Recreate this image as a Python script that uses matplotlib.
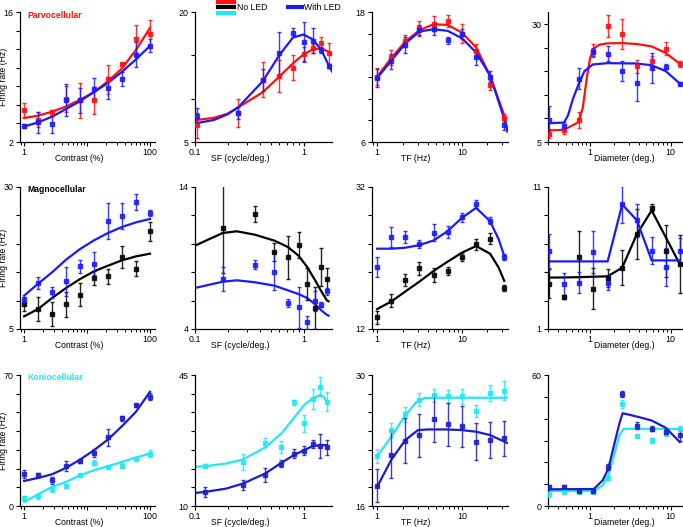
import numpy as np
import matplotlib.pyplot as plt
from matplotlib.lines import Line2D

plt.rcParams['font.family'] = ['Liberation Sans', 'DejaVu Sans']

# stimulus values
contrast = [1, 1.67, 2.78, 4.64, 7.74, 12.9, 21.5, 35.9, 59.9, 100]
tf = [1, 1.47, 2.15, 3.16, 4.64, 6.8, 10, 14.7, 21.5, 31.6]
diameter = [0.31, 0.47, 0.72, 1.08, 1.65, 2.5, 3.8, 5.8, 8.7, 13.0]
sf_parvo = [0.105, 0.25, 0.42, 0.6, 0.8, 1.0, 1.22, 1.46, 1.7]
sf_magno = [0.18, 0.357, 0.54, 0.72, 0.9, 1.08, 1.27, 1.46, 1.64]
sf_konio = [0.123, 0.276, 0.442, 0.625, 0.81, 1.01, 1.21, 1.42, 1.64]

# ---- Parvocellular ----
p_con_no = [5.45, 4.4, 5.2, 6.58, 6.47, 6.47, 8.76, 10.36, 13.09, 13.64]
p_con_no_err = [0.73, 0.8, 0.3, 1.4, 1.85, 1.5, 1.55, 0.2, 1.55, 1.55]
p_con_led = [3.71, 4.11, 3.89, 6.55, 6.47, 7.75, 7.82, 8.76, 11.38, 12.36]
p_con_led_err = [0.2, 1.1, 0.95, 1.75, 1.3, 1.15, 1.15, 0.75, 1.35, 0.7]
p_con_fit_no = [4.58, 4.84, 5.27, 5.82, 6.55, 7.38, 8.55, 9.93, 11.93, 14.29]
p_con_fit_led = [3.67, 4.11, 4.73, 5.56, 6.4, 7.38, 8.36, 9.56, 10.9, 12.36]

p_sf_no = [6.91, 8.36, 12.18, 12.63, 13.59, 15.11, 15.8, 16.45, 15.23]
p_sf_no_err = [1.43, 1.58, 2.04, 1.81, 1.43, 0.86, 0.48, 0.61, 1.24]
p_sf_led = [8.05, 8.36, 12.18, 15.23, 17.6, 16.56, 16.68, 15.61, 13.78]
p_sf_led_err = [0.86, 0.67, 1.3, 2.48, 0.52, 2.23, 1.43, 0.38, 0.2]
p_sf_fitx = [0.1, 0.15, 0.2, 0.25, 0.42, 0.6, 0.8, 1.0, 1.22, 1.46, 1.7, 1.83]
p_sf_fit_no = [7.52, 7.79, 8.28, 9.0, 10.73, 12.56, 14.08, 15.11, 15.69, 15.8, 15.42, 15.04]
p_sf_fit_led = [7.14, 7.55, 8.2, 9.0, 12.0, 15.04, 17.06, 17.4, 16.83, 15.61, 13.89, 13.13]

p_tf_no = [12.04, 13.81, 15.34, 16.5, 16.93, 17.17, 16.01, 14.42, 11.3, 8.24]
p_tf_no_err = [0.76, 0.69, 0.57, 0.69, 0.69, 0.53, 0.87, 0.61, 0.46, 0.38]
p_tf_led = [11.91, 13.44, 14.97, 16.32, 16.41, 15.4, 15.95, 13.81, 12.04, 7.54]
p_tf_led_err = [0.81, 0.69, 0.73, 0.46, 0.49, 0.31, 0.46, 0.67, 0.53, 0.46]
p_tf_fitx = [1, 1.47, 2.15, 3.16, 4.64, 6.8, 10, 14.7, 21.5, 31.6, 34.5]
p_tf_fit_no = [12.04, 13.75, 15.28, 16.32, 16.87, 16.81, 16.1, 14.73, 12.13, 8.46, 6.93]
p_tf_fit_led = [11.91, 13.5, 15.09, 16.2, 16.41, 16.26, 15.58, 14.27, 12.13, 8.15, 7.08]

p_dia_no = [6.75, 7.45, 9.69, 24.4, 29.65, 27.97, 21.1, 22.3, 24.82, 21.6]
p_dia_no_err = [1.0, 0.7, 1.68, 1.4, 2.27, 3.15, 1.4, 1.05, 1.4, 0.7]
p_dia_led = [9.69, 8.43, 18.45, 24.12, 23.7, 20.06, 17.6, 20.76, 20.97, 17.39]
p_dia_led_err = [3.0, 0.8, 2.2, 0.9, 1.6, 2.1, 3.9, 3.2, 0.5, 0.3]
p_dia_fitx_no = [0.31, 0.473, 0.718, 0.812, 0.91, 1.0, 1.13, 1.30, 1.65, 2.53, 3.77, 5.77, 8.66, 13.0]
p_dia_fit_no = [7.45, 7.59, 9.2, 12.35, 18.66, 22.86, 24.96, 25.66, 25.94, 26.0, 25.8, 25.3, 23.9, 21.6]
p_dia_fitx_led = [0.31, 0.473, 0.53, 0.611, 0.718, 0.851, 1.08, 1.65, 3.77, 5.77, 8.66, 13.0]
p_dia_fit_led = [8.99, 9.13, 10.6, 14.1, 17.25, 20.06, 21.46, 21.74, 21.67, 21.3, 20.06, 17.39]

# ---- Magnocellular ----
m_con_no = [9.4, 8.52, 7.7, 9.4, 11.04, 13.98, 14.27, 17.68, 15.62, 22.2]
m_con_no_err = [1.17, 2.05, 2.14, 2.2, 2.05, 1.3, 1.3, 1.9, 1.3, 1.67]
m_con_led = [10.16, 13.1, 11.46, 13.39, 16.03, 16.5, 23.96, 24.84, 27.36, 25.42]
m_con_led_err = [0.4, 1.1, 1.0, 2.5, 1.17, 2.05, 3.2, 2.3, 1.4, 0.55]
m_con_fit_no = [7.23, 8.52, 10.46, 12.22, 13.8, 15.15, 16.15, 17.09, 17.79, 18.26]
m_con_fit_led = [10.87, 12.98, 14.98, 17.21, 19.08, 20.61, 21.9, 22.96, 23.78, 24.37]

m_sf_no = [11.09, 12.12, 9.4, 9.05, 9.92, 7.19, 5.48, 8.37, 7.54]
m_sf_no_err = [3.15, 0.56, 0.63, 1.53, 0.92, 1.12, 1.5, 1.31, 0.77]
m_sf_led = [7.52, 8.53, 8.04, 5.83, 5.53, 4.47, 5.95, 5.71, 6.65]
m_sf_led_err = [0.82, 0.3, 1.31, 0.26, 1.45, 0.47, 0.7, 0.16, 0.27]
m_sf_fitx = [0.1, 0.18, 0.243, 0.357, 0.54, 0.72, 0.9, 1.08, 1.27, 1.46, 1.64, 1.7]
m_sf_fit_no = [9.87, 10.76, 10.88, 10.64, 10.22, 9.77, 9.16, 8.37, 7.47, 6.65, 6.02, 5.95]
m_sf_fit_led = [6.89, 7.33, 7.43, 7.29, 7.05, 6.72, 6.46, 6.18, 5.76, 5.31, 5.0, 4.94]

m_tf_no = [13.64, 15.97, 18.87, 20.55, 19.62, 20.18, 22.14, 23.92, 24.71, 17.75]
m_tf_no_err = [0.87, 0.89, 0.82, 0.93, 0.93, 0.52, 0.63, 0.77, 0.75, 0.4]
m_tf_led = [20.74, 24.94, 24.99, 24.01, 25.55, 25.69, 27.75, 29.62, 27.28, 22.14]
m_tf_led_err = [1.45, 1.45, 0.82, 0.58, 1.17, 0.82, 0.63, 0.58, 0.47, 0.47]
m_tf_fitx = [1, 1.47, 2.15, 3.16, 4.64, 6.8, 10, 14.7, 21.5, 27.2, 31.6]
m_tf_fit_no = [14.8, 15.88, 17.28, 18.68, 20.18, 21.49, 22.75, 23.68, 22.61, 20.64, 18.78]
m_tf_fit_led = [23.31, 23.31, 23.45, 23.82, 24.48, 25.79, 27.65, 29.06, 27.19, 24.62, 22.28]

m_dia_no = [4.2, 3.27, 6.1, 3.85, 4.62, 5.32, 7.68, 9.54, 6.52, 5.59]
m_dia_no_err = [1.04, 0.15, 1.83, 1.47, 0.64, 1.21, 1.75, 0.23, 1.83, 2.05]
m_dia_led = [6.48, 4.16, 4.25, 6.45, 4.25, 9.77, 8.66, 6.52, 5.36, 6.48]
m_dia_led_err = [1.19, 0.78, 0.74, 1.48, 0.52, 1.31, 1.16, 0.93, 1.33, 0.93]
m_dia_fit_no = [4.62, 4.63, 4.65, 4.68, 4.71, 5.32, 7.68, 9.35, 7.45, 5.55]
m_dia_fit_led = [5.76, 5.76, 5.76, 5.76, 5.76, 9.77, 8.66, 5.83, 5.83, 5.83]

# ---- Koniocellular ----
k_con_no = [4.29, 5.18, 9.29, 10.71, 16.61, 23.04, 20.89, 21.43, 25.36, 28.04]
k_con_no_err = [1.3, 1.2, 1.6, 0.9, 0.7, 1.3, 0.7, 1.3, 0.9, 1.8]
k_con_led = [17.32, 16.79, 13.75, 21.25, 24.11, 28.39, 36.61, 46.79, 53.93, 58.39]
k_con_led_err = [2.1, 1.1, 1.8, 2.7, 1.0, 2.0, 4.5, 1.3, 0.8, 2.0]
k_con_fit_no = [2.14, 6.25, 10.18, 12.86, 16.43, 19.11, 21.25, 23.57, 25.89, 28.04]
k_con_fit_led = [13.39, 15.0, 16.96, 20.36, 24.82, 29.82, 35.54, 42.68, 50.36, 61.07]

k_sf_no = [20.62, 21.79, 26.88, 25.8, 37.68, 32.05, 38.48, 41.88, 37.86]
k_sf_no_err = [0.58, 2.23, 1.21, 1.61, 0.67, 2.23, 2.68, 2.5, 2.54]
k_sf_led = [13.75, 15.71, 18.21, 21.34, 24.02, 24.73, 26.52, 25.98, 25.63]
k_sf_led_err = [1.25, 1.34, 1.92, 0.98, 1.21, 1.21, 1.12, 3.21, 1.92]
k_sf_fitx = [0.1, 0.123, 0.193, 0.276, 0.442, 0.625, 0.81, 1.01, 1.21, 1.42, 1.53, 1.64]
k_sf_fit_no = [20.45, 20.62, 21.34, 22.41, 25.63, 29.38, 33.39, 36.96, 38.75, 39.64, 39.2, 37.86]
k_sf_fit_led = [13.48, 13.75, 14.64, 15.98, 18.66, 21.52, 23.57, 24.91, 25.98, 26.25, 26.25, 26.25]

k_tf_no = [21.36, 24.11, 25.8, 27.36, 27.81, 27.71, 27.71, 26.16, 28.06, 28.34]
k_tf_no_err = [0.74, 0.78, 0.81, 0.71, 0.65, 0.71, 0.81, 0.65, 0.88, 0.97]
k_tf_led = [18.19, 21.47, 22.98, 23.58, 25.35, 24.75, 24.53, 22.88, 23.05, 23.23]
k_tf_led_err = [1.76, 2.5, 2.4, 2.3, 2.5, 2.3, 2.2, 1.97, 1.94, 1.85]
k_tf_fitx_no = [1, 1.47, 2.15, 2.9, 3.6, 4.64, 35]
k_tf_fit_no = [21.29, 23.41, 25.7, 27.11, 27.53, 27.57, 27.57]
k_tf_fitx_led = [1, 1.47, 2.15, 3.03, 3.91, 6.8, 10, 14.7, 21.5, 35]
k_tf_fit_led = [18.05, 20.94, 23.05, 24.11, 24.18, 24.18, 24.11, 23.94, 23.58, 22.7]

k_dia_no = [5.36, 6.42, 6.42, 6.42, 12.97, 46.76, 31.99, 30.02, 33.36, 35.34]
k_dia_no_err = [1.2, 0.6, 0.6, 0.6, 1.2, 2.0, 0.6, 1.2, 1.1, 1.1]
k_dia_led = [8.71, 8.71, 6.88, 6.88, 17.84, 51.32, 36.86, 35.34, 33.82, 32.3]
k_dia_led_err = [1.0, 0.8, 0.6, 1.0, 1.4, 1.5, 1.7, 1.1, 1.5, 2.7]
k_dia_fitx_no = [0.31, 1.11, 1.43, 1.68, 2.0, 2.3, 2.6, 13.0]
k_dia_fit_no = [6.88, 6.88, 9.47, 14.03, 23.93, 32.3, 35.34, 35.34]
k_dia_fitx_led = [0.31, 1.11, 1.43, 1.68, 2.0, 2.3, 2.53, 3.8, 5.8, 8.7, 13.0]
k_dia_fit_led = [7.64, 7.79, 11.75, 17.08, 28.49, 37.63, 42.5, 40.97, 39.15, 35.8, 29.25]

RED = '#ff1010'
BLUE = '#1a1aff'
BLACK = '#000000'
CYAN = '#22e8f0'
DBLUE = '#1c1cc8'

W, H = 683, 527
fig = plt.figure(figsize=(W / 100, H / 100), dpi=100)

cols = [(20, 155), (195, 332), (372, 508), (548, 682)]
rows = [(12, 142), (187, 329), (375, 506)]
FS = 6.2

# xlim, ticks, tick labels, axis label, label position (axes fraction)
xspec = {
    'con': ((0.86, 120), [1, 10, 100], ['1', '', '100'], 'Contrast (%)', 0.44),
    'sf': ((0.1, 1.83), [0.1, 1], ['0.1', '1'], 'SF (cycle/deg.)', 0.33),
    'tf': ((0.87, 35), [1, 10], ['1', '10'], 'TF (Hz)', 0.32),
    'dia': ((0.30, 13.8), [1, 10], ['1', '10'], 'Diameter (deg.)', 0.57),
}


def panel(r, c, kind, x, no, no_err, led, led_err, fx_no, f_no, fx_led, f_led,
          c_no, c_led, ylim, ytop, ystep):
    left, right = cols[c]
    top, bottom = rows[r]
    w, h = right - left, bottom - top
    ax = fig.add_axes([left / W, 1 - bottom / H, w / W, h / H])
    ax.plot(fx_no, f_no, color=c_no, lw=1.6, zorder=2)
    ax.plot(fx_led, f_led, color=c_led, lw=1.6, zorder=2)
    ax.errorbar(x, no, yerr=no_err, fmt='s', ms=2.5, color=c_no, elinewidth=1,
                capsize=1.5, capthick=1, zorder=3, alpha=0.85)
    ax.errorbar(x, led, yerr=led_err, fmt='s', ms=2.5, color=c_led, elinewidth=1,
                capsize=1.5, capthick=1, zorder=3, alpha=0.85)
    ax.set_xscale('log')
    xlim, xt, xtl, xlab, xpos = xspec[kind]
    ax.set_xlim(*xlim)
    ax.set_xticks(xt)
    ax.set_xticklabels(xtl)
    ax.set_ylim(*ylim)
    yt = np.arange(ylim[0], ytop + 0.001, ystep)
    ax.set_yticks(yt)
    ax.set_yticklabels([f'{v:g}' if v in (yt[0], yt[-1]) else '' for v in yt])
    ax.set_xlabel(xlab, fontsize=FS)
    ax.xaxis.set_label_coords(xpos, -12 / h)
    if c == 0:
        ax.set_ylabel('Firing rate (Hz)', fontsize=FS)
        ax.yaxis.set_label_coords(-12 / w, 0.5)
    for s in ['top', 'right']:
        ax.spines[s].set_visible(False)
    for s in ['left', 'bottom']:
        ax.spines[s].set_linewidth(0.9)
    ax.tick_params(which='major', direction='out', length=3, width=0.8, labelsize=6.4, pad=1.5)
    ax.tick_params(which='minor', direction='out', length=2, width=0.7)
    return ax


panel(0, 0, 'con', contrast, p_con_no, p_con_no_err, p_con_led, p_con_led_err,
      contrast, p_con_fit_no, contrast, p_con_fit_led, RED, BLUE, (2, 16), 16, 2)
panel(0, 1, 'sf', sf_parvo, p_sf_no, p_sf_no_err, p_sf_led, p_sf_led_err,
      p_sf_fitx, p_sf_fit_no, p_sf_fitx, p_sf_fit_led, RED, BLUE, (5, 20), 20, 5)
panel(0, 2, 'tf', tf, p_tf_no, p_tf_no_err, p_tf_led, p_tf_led_err,
      p_tf_fitx, p_tf_fit_no, p_tf_fitx, p_tf_fit_led, RED, BLUE, (6, 18), 18, 2)
panel(0, 3, 'dia', diameter, p_dia_no, p_dia_no_err, p_dia_led, p_dia_led_err,
      p_dia_fitx_no, p_dia_fit_no, p_dia_fitx_led, p_dia_fit_led, RED, BLUE, (5, 32.6), 30, 5)

panel(1, 0, 'con', contrast, m_con_no, m_con_no_err, m_con_led, m_con_led_err,
      contrast, m_con_fit_no, contrast, m_con_fit_led, BLACK, BLUE, (5, 30), 30, 5)
panel(1, 1, 'sf', sf_magno, m_sf_no, m_sf_no_err, m_sf_led, m_sf_led_err,
      m_sf_fitx, m_sf_fit_no, m_sf_fitx, m_sf_fit_led, BLACK, BLUE, (4, 14), 14, 2)
panel(1, 2, 'tf', tf, m_tf_no, m_tf_no_err, m_tf_led, m_tf_led_err,
      m_tf_fitx, m_tf_fit_no, m_tf_fitx, m_tf_fit_led, BLACK, BLUE, (12, 32), 32, 4)
panel(1, 3, 'dia', diameter, m_dia_no, m_dia_no_err, m_dia_led, m_dia_led_err,
      diameter, m_dia_fit_no, diameter, m_dia_fit_led, BLACK, BLUE, (1, 11), 11, 2)

panel(2, 0, 'con', contrast, k_con_no, k_con_no_err, k_con_led, k_con_led_err,
      contrast, k_con_fit_no, contrast, k_con_fit_led, CYAN, DBLUE, (0, 70), 70, 10)
panel(2, 1, 'sf', sf_konio, k_sf_no, k_sf_no_err, k_sf_led, k_sf_led_err,
      k_sf_fitx, k_sf_fit_no, k_sf_fitx, k_sf_fit_led, CYAN, DBLUE, (10, 45), 45, 5)
panel(2, 2, 'tf', tf, k_tf_no, k_tf_no_err, k_tf_led, k_tf_led_err,
      k_tf_fitx_no, k_tf_fit_no, k_tf_fitx_led, k_tf_fit_led, CYAN, DBLUE, (16, 30), 30, 2)
panel(2, 3, 'dia', diameter, k_dia_no, k_dia_no_err, k_dia_led, k_dia_led_err,
      k_dia_fitx_no, k_dia_fit_no, k_dia_fitx_led, k_dia_fit_led, CYAN, DBLUE, (0, 60), 60, 10)

# group labels
fig.text(27 / W, 1 - 15 / H, 'Parvocellular', color=RED, weight='bold', fontsize=FS, va='center')
fig.text(27 / W, 1 - 189 / H, 'Magnocellular', color=BLACK, weight='bold', fontsize=FS, va='center')
fig.text(27 / W, 1 - 377 / H, 'Koniocellular', color=CYAN, weight='bold', fontsize=FS, va='center')

# legend
for yy, col in [(1.5, RED), (7, BLACK), (13, CYAN)]:
    fig.add_artist(Line2D([218 / W, 234 / W], [1 - yy / H] * 2, color=col, lw=3))
fig.text(237 / W, 1 - 7 / H, 'No LED', fontsize=FS, va='center')
fig.add_artist(Line2D([288 / W, 302 / W], [1 - 7 / H] * 2, color=BLUE, lw=3))
fig.text(304 / W, 1 - 7 / H, 'With LED', fontsize=FS, va='center')

fig.savefig('out.png', dpi=100)
